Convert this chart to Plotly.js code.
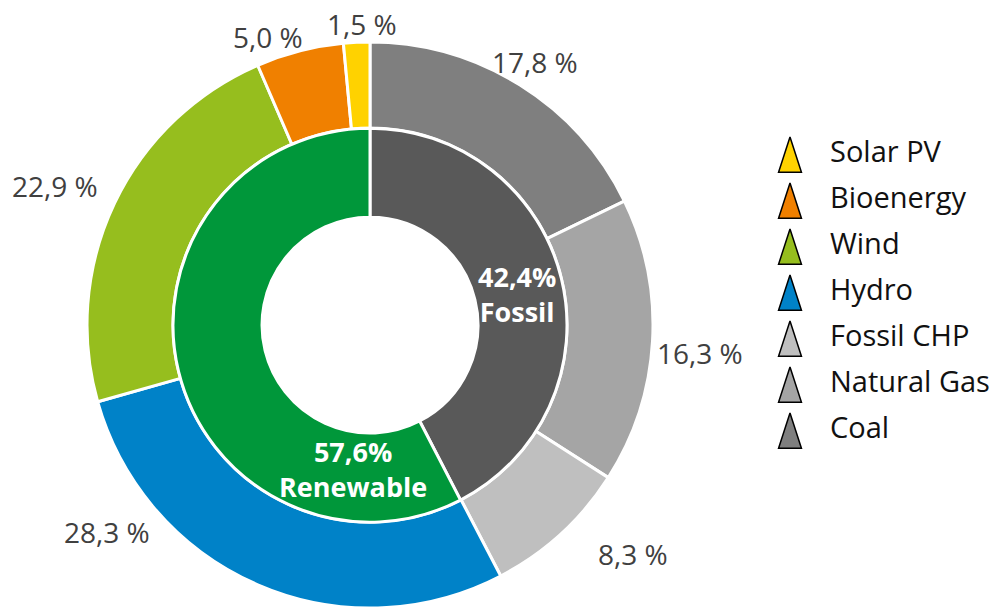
<!DOCTYPE html>
<html>
<head>
<meta charset="utf-8">
<script src="https://cdn.plot.ly/plotly-3.0.1.min.js"></script>
<style>html,body{margin:0;padding:0;background:#fff;}#chart{width:1000px;height:610px;}</style>
</head>
<body>
<div id="chart"></div>
<script>
// Outer ring (clockwise from 12 o'clock)
const outerLabels = ['Coal', 'Natural Gas', 'Fossil CHP', 'Hydro', 'Wind', 'Bioenergy', 'Solar PV'];
const outerValues = [17.8, 16.3, 8.3, 28.3, 22.9, 5.0, 1.5];

// Inner ring
const innerLabels = ['Fossil', 'Renewable'];
const innerValues = [42.4, 57.6];

// Legend (top to bottom)
const legendLabels = outerLabels.slice().reverse();
const legendIndex = legendLabels.map((_, i) => i);

// ---- styles / layout helpers (not data) ----
const outerColors = ['#7f7f7f', '#a5a5a5', '#bfbfbf', '#0082c8', '#96be1e', '#f08000', '#ffd200'];
const innerColors = ['#595959', '#00973a'];
const legendColors = outerColors.slice().reverse();
// label anchor points (pixels from top-left) for the outer-ring value labels, as in the reference
const outerLabelPos = [[535, 62], [700, 353], [633, 554], [107, 532], [55, 186], [268, 37], [362, 24]];
const W = 1000, H = 610;
const fmt = v => v.toFixed(1).replace('.', ',');

const outer = {
  type: 'pie',
  labels: outerLabels,
  values: outerValues,
  sort: false,
  direction: 'clockwise',
  rotation: 0,
  hole: 0.696,
  domain: {x: [0.087, 0.653], y: [0.0033, 0.9311]},
  marker: {colors: outerColors, line: {color: '#ffffff', width: 3}},
  textinfo: 'none',
  showlegend: false,
  hoverinfo: 'label+value'
};

const inner = {
  type: 'pie',
  labels: innerLabels,
  values: innerValues,
  sort: false,
  direction: 'clockwise',
  rotation: 0,
  hole: 0.548,
  domain: {x: [0.173, 0.567], y: [0.144, 0.790]},
  marker: {colors: innerColors, line: {color: '#ffffff', width: 3}},
  textinfo: 'none',
  showlegend: false,
  hoverinfo: 'label+value'
};

const legMarkers = {
  type: 'scatter',
  mode: 'markers',
  x: legendIndex.map(() => 30),
  y: legendIndex,
  xaxis: 'x',
  yaxis: 'y2',
  marker: {symbol: 'arrow', size: 37, color: legendColors, line: {color: '#000000', width: 1.5}},
  showlegend: false,
  hoverinfo: 'skip'
};

const legText = {
  type: 'scatter',
  mode: 'text',
  x: legendIndex.map(() => 70),
  y: legendIndex,
  xaxis: 'x',
  yaxis: 'y',
  text: legendLabels,
  textposition: 'middle right',
  textfont: {family: 'Open Sans', size: 29, color: '#111111'},
  showlegend: false,
  hoverinfo: 'skip'
};

const valueAnnotations = outerValues.map((v, i) => ({
  xref: 'paper', yref: 'paper',
  x: outerLabelPos[i][0] / W, y: 1 - outerLabelPos[i][1] / H,
  xanchor: 'center', yanchor: 'middle',
  text: fmt(v) + ' %',
  showarrow: false,
  font: {family: 'Open Sans', size: 28, color: '#404040'}
}));

const innerAnnotations = [
  {x: 0.517, y: 0.518},
  {x: 0.353, y: 0.231}
].map((p, i) => ({
  xref: 'paper', yref: 'paper', x: p.x, y: p.y,
  xanchor: 'center', yanchor: 'middle',
  text: fmt(innerValues[i]) + '%<br>' + innerLabels[i],
  showarrow: false,
  font: {family: 'Open Sans', size: 27, color: '#ffffff', weight: 'bold'}
}));

const layout = {
  width: W,
  height: H,
  margin: {l: 0, r: 0, t: 0, b: 0},
  paper_bgcolor: '#ffffff',
  plot_bgcolor: 'rgba(0,0,0,0)',
  separators: ', ',
  showlegend: false,
  xaxis: {domain: [0.76, 1.0], range: [0, 240], visible: false, fixedrange: true},
  yaxis: {domain: [0.2558, 0.7836], range: [6.5, -0.5], visible: false, fixedrange: true},
  yaxis2: {overlaying: 'y', range: [6.89, -0.11], visible: false, fixedrange: true},
  annotations: valueAnnotations.concat(innerAnnotations)
};

Plotly.newPlot('chart', [outer, inner, legMarkers, legText], layout, {displayModeBar: false, staticPlot: true});
</script>
</body>
</html>
